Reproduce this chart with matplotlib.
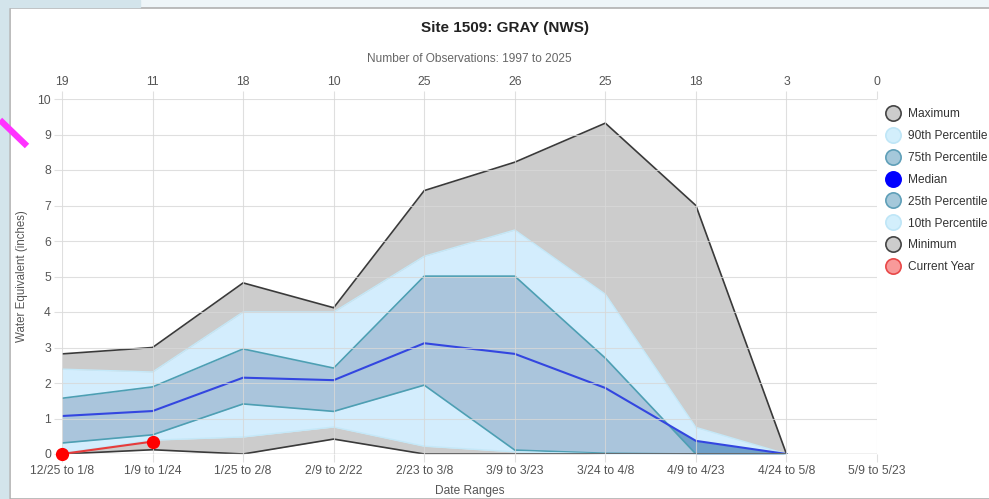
import numpy as np
import matplotlib.pyplot as plt
from matplotlib.lines import Line2D
from matplotlib.patches import Rectangle

plt.rcParams['font.family'] = ['Liberation Sans', 'DejaVu Sans']

labels = ["12/25 to 1/8", "1/9 to 1/24", "1/25 to 2/8", "2/9 to 2/22", "2/23 to 3/8",
          "3/9 to 3/23", "3/24 to 4/8", "4/9 to 4/23", "4/24 to 5/8", "5/9 to 5/23"]
counts = [19, 11, 18, 10, 25, 26, 25, 18, 3, 0]
nan = np.nan
maximum = [2.82, 3.0, 4.82, 4.12, 7.42, 8.22, 9.32, 7.0, 0, nan]
p90 = [2.39, 2.31, 4.0, 4.0, 5.57, 6.31, 4.5, 0.75, 0, nan]
p75 = [1.57, 1.89, 2.96, 2.42, 5.01, 5.01, 2.7, 0.0, 0, nan]
median = [1.07, 1.21, 2.15, 2.08, 3.12, 2.82, 1.86, 0.37, 0, nan]
p25 = [0.31, 0.54, 1.41, 1.2, 1.94, 0.11, 0.02, 0, 0, nan]
p10 = [0.02, 0.39, 0.48, 0.76, 0.22, 0.06, 0, 0, 0, nan]
minimum = [0, 0.12, 0.0, 0.42, 0, 0, 0, 0, 0, nan]
current = [0, 0.35]

x = np.arange(len(labels))

fig = plt.figure(figsize=(9.89, 4.99), dpi=100)
W, H = 989, 499

# screenshot frame
fig.patches.append(Rectangle((0, 0), 1, 1, transform=fig.transFigure, color='#eef5f8', zorder=-10))
fig.patches.append(Rectangle((10 / W, 0), 1, 1 - 8 / H, transform=fig.transFigure,
                             facecolor='white', edgecolor='#b0b0b0', lw=1.2, zorder=-9))
fig.patches.append(Rectangle((0, 0), 8 / W, 1, transform=fig.transFigure, color='#d3e4eb', zorder=-8))
fig.patches.append(Rectangle((0, 1 - 7 / H), 140 / W, 7 / H, transform=fig.transFigure, color='#d3e4eb', zorder=-8))
fig.lines.append(Line2D([0, 27 / W], [1 - 120 / H, 1 - 146 / H], transform=fig.transFigure,
                        color='#ff33ff', lw=4.5, solid_capstyle='butt'))

ax = fig.add_axes([62 / W, 1 - 454 / H, (877 - 62) / W, (454 - 99) / H])
ax.set_xlim(0, 9)
ax.set_ylim(0, 10)

grey_fill = (0.5, 0.5, 0.5, 0.4)
light_fill = (135 / 255, 206 / 255, 250 / 255, 0.36)
steel_fill = (70 / 255, 130 / 255, 180 / 255, 0.46)

ax.fill_between(x, maximum, p90, color=grey_fill, lw=0)
ax.fill_between(x, p90, p75, color=light_fill, lw=0)
ax.fill_between(x, p75, median, color=steel_fill, lw=0)
ax.fill_between(x, median, p25, color=steel_fill, lw=0)
ax.fill_between(x, p25, p10, color=light_fill, lw=0)
ax.fill_between(x, p10, minimum, color=grey_fill, lw=0)

ax.plot(x, maximum, color='#3a3a3a', lw=1.2)
ax.plot(x, p90, color='#c4e8f8', lw=1.0)
ax.plot(x, p75, color='#4d9fb3', lw=1.2)
ax.plot(x, median, color='#3346e0', lw=1.5)
ax.plot(x, p25, color='#4d9fb3', lw=1.2)
ax.plot(x, p10, color='#c4e8f8', lw=1.0)
ax.plot(x, minimum, color='#3a3a3a', lw=1.2)
ax.plot(x[:len(current)], current, color='#e63c3c', lw=1.5, marker='o', ms=8.5,
        mfc='#ff0000', mec='#ff0000', clip_on=False, zorder=5)

for s in ax.spines.values():
    s.set_visible(False)
ax.grid(True, color='#d8d8d8', lw=0.8, alpha=0.8)
ax.set_axisbelow(False)
ax.axhline(0, color='#bdbdbd', lw=1.0)
ax.set_xticks(x)
ax.set_xticklabels(labels)
ax.set_yticks(range(0, 11))
ax.tick_params(axis='both', colors='#e0e0e0', labelcolor='#555555', labelsize=8.7, length=6, pad=2)

top = ax.secondary_xaxis('top')
top.set_xticks(x)
top.set_xticklabels([str(c) for c in counts])
top.tick_params(colors='#e0e0e0', labelcolor='#555555', labelsize=8.7, length=6, pad=2)
for s in top.spines.values():
    s.set_visible(False)

fig.text(505 / W, 1 - 28 / H, "Site 1509: GRAY (NWS)", ha='center', va='center',
         fontsize=11, fontweight='bold', color='#222222')
fig.text(469 / W, 1 - 59 / H, "Number of Observations: 1997 to 2025", ha='center', va='center',
         fontsize=8.6, color='#666666')
fig.text(470 / W, 1 - 491 / H, "Date Ranges", ha='center', va='center', fontsize=8.6, color='#555555')
fig.text(22 / W, 1 - 276 / H, "Water Equivalent (inches)", ha='center', va='center',
         rotation=90, fontsize=8.3, color='#555555')

legend_items = [
    ("Maximum", '#cccccc', '#444444'),
    ("90th Percentile", '#d3effc', '#bfe6f7'),
    ("75th Percentile", '#a5c8da', '#5f9fb8'),
    ("Median", '#0000ff', '#0000ff'),
    ("25th Percentile", '#a5c8da', '#5f9fb8'),
    ("10th Percentile", '#d3effc', '#bfe6f7'),
    ("Minimum", '#cccccc', '#444444'),
    ("Current Year", '#f89a9a', '#e84848'),
]
handles = [Line2D([], [], ls='none', marker='o', ms=11, mfc=fc, mec=ec, mew=1.2, label=name)
           for name, fc, ec in legend_items]
fig.legend(handles=handles, loc='upper left', bbox_to_anchor=(879 / W, 1 - 102 / H),
           frameon=False, fontsize=8.6, labelspacing=0.83, handletextpad=0.5,
           handlelength=1.4, borderpad=0, labelcolor='#333333')

fig.savefig('out.png', dpi=100)
